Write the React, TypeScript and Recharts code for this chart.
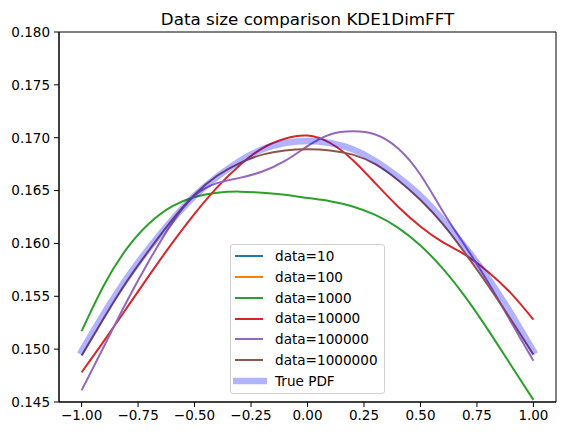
import { LineChart, Line, XAxis, YAxis, Legend, ReferenceArea } from 'recharts'

// sample positions along x
const xs = [-1.0, -0.9, -0.8, -0.7, -0.6, -0.5, -0.4, -0.3, -0.2, -0.1, 0.0, 0.1, 0.2, 0.3, 0.4, 0.5, 0.6, 0.7, 0.8, 0.9, 1.0]

// KDE estimates (data=10 and data=100 are not visible)
const kde1000 = [0.1517, 0.1561, 0.1595, 0.1619, 0.1635, 0.1644, 0.1648, 0.1649, 0.1648, 0.1646, 0.1643, 0.1640, 0.1635, 0.1627, 0.1615, 0.1598, 0.1576, 0.1549, 0.1518, 0.1485, 0.1452]
const kde10000 = [0.1478, 0.1508, 0.1539, 0.1570, 0.1600, 0.1628, 0.1653, 0.1674, 0.1690, 0.1699, 0.1702, 0.1695, 0.1679, 0.1657, 0.1635, 0.1616, 0.1601, 0.1589, 0.1573, 0.1553, 0.1528]
const kde100000 = [0.1461, 0.1503, 0.1545, 0.1584, 0.1619, 0.1645, 0.1657, 0.1662, 0.1668, 0.1678, 0.1692, 0.1703, 0.1706, 0.1703, 0.1690, 0.1665, 0.1630, 0.1597, 0.1563, 0.1526, 0.1489]
const kde1000000 = [0.1494, 0.1530, 0.1564, 0.1594, 0.1622, 0.1646, 0.1664, 0.1676, 0.1684, 0.1688, 0.1689, 0.1688, 0.1684, 0.1675, 0.1660, 0.1641, 0.1618, 0.1590, 0.1560, 0.1528, 0.1495]
const truePdf = [0.1498, 0.1534, 0.1567, 0.1596, 0.1622, 0.1645, 0.1663, 0.1678, 0.1689, 0.1695, 0.1697, 0.1695, 0.1689, 0.1678, 0.1663, 0.1645, 0.1622, 0.1596, 0.1567, 0.1534, 0.1498]

const xTicks = [-1, -0.75, -0.5, -0.25, 0, 0.25, 0.5, 0.75, 1]
const yTicks = [0.145, 0.15, 0.155, 0.16, 0.165, 0.17, 0.175, 0.18]

const series = [
  { key: 'd10', name: 'data=10', color: '#1f77b4', values: null as number[] | null },
  { key: 'd100', name: 'data=100', color: '#ff7f0e', values: null as number[] | null },
  { key: 'd1000', name: 'data=1000', color: '#2ca02c', values: kde1000 },
  { key: 'd10000', name: 'data=10000', color: '#d62728', values: kde10000 },
  { key: 'd100000', name: 'data=100000', color: '#9467bd', values: kde100000 },
  { key: 'd1000000', name: 'data=1000000', color: '#8c564b', values: kde1000000 },
]

const rows = xs.map((x, i) => {
  const row: Record<string, number> = { x, pdf: truePdf[i] }
  series.forEach((s) => {
    if (s.values) row[s.key] = s.values[i]
  })
  return row
})

const FONT = '"DejaVu Sans", sans-serif'
const tickStyle = { fill: '#000', fontSize: 13.5, fontFamily: FONT }

const fmtX = (v: number) => v.toFixed(2).replace('-', '\u2212')

const LegendBox = () => (
  <div
    style={{
      width: 155,
      height: 150,
      boxSizing: 'border-box',
      border: '1px solid #d0d0d0',
      borderRadius: 3,
      background: 'rgba(255,255,255,0.8)',
      paddingTop: 1,
      fontFamily: FONT,
      fontSize: 13.6,
      color: '#000',
    }}
  >
    {series.map((s) => (
      <div key={s.key} style={{ display: 'flex', alignItems: 'center', height: 20.75 }}>
        <svg width={28} height={8} style={{ marginLeft: 4, marginRight: 12 }}>
          <line x1={0} y1={4} x2={28} y2={4} stroke={s.color} strokeWidth={2} />
        </svg>
        <span style={{ lineHeight: '20.75px', whiteSpace: 'nowrap' }}>{s.name}</span>
      </div>
    ))}
    <div style={{ display: 'flex', alignItems: 'center', height: 20.75 }}>
      <svg width={34} height={8} style={{ marginLeft: 2, marginRight: 8 }}>
        <line x1={0} y1={4} x2={34} y2={4} stroke="#0000ff" strokeOpacity={0.3} strokeWidth={6.5} />
      </svg>
      <span style={{ lineHeight: '20.75px' }}>True PDF</span>
    </div>
  </div>
)

export default function App() {
  return (
    <div style={{ position: 'fixed', left: 0, top: 0, width: 565, height: 435, background: '#fff' }}>
      <div
        style={{
          position: 'absolute',
          left: 59,
          width: 497,
          top: 9,
          textAlign: 'center',
          fontFamily: FONT,
          fontSize: 16.7,
          color: '#000',
          whiteSpace: 'nowrap',
        }}
      >
        Data size comparison KDE1DimFFT
      </div>
      <LineChart width={565} height={435} data={rows} margin={{ top: 32, right: 9, left: 9, bottom: 3 }}>
        <XAxis
          dataKey="x"
          type="number"
          domain={[-1.1, 1.1]}
          allowDataOverflow
          ticks={xTicks}
          tickFormatter={fmtX}
          stroke="#000"
          tickSize={5}
          tickMargin={3}
          height={30}
          tick={tickStyle}
        />
        <YAxis
          type="number"
          domain={[0.145, 0.18]}
          allowDataOverflow
          ticks={yTicks}
          tickFormatter={(v: number) => v.toFixed(3)}
          stroke="#000"
          tickSize={5}
          tickMargin={4}
          width={50}
          tick={tickStyle}
        />

        {/* plot frame, like matplotlib's four spines */}
        <ReferenceArea x1={-1.1} x2={1.1} y1={0.145} y2={0.18} fill="none" stroke="#000" strokeWidth={1} ifOverflow="visible" />

        {series.map((s) => (
          <Line
            key={s.key}
            dataKey={s.key}
            name={s.name}
            type="natural"
            stroke={s.color}
            strokeWidth={2}
            dot={false}
            isAnimationActive={false}
          />
        ))}
        <Line
          dataKey="pdf"
          name="True PDF"
          type="natural"
          stroke="#0000ff"
          strokeOpacity={0.3}
          strokeWidth={6.5}
          strokeLinecap="square"
          dot={false}
          isAnimationActive={false}
        />

        <Legend
          layout="vertical"
          align="center"
          verticalAlign="middle"
          wrapperStyle={{ left: 230, top: 244, width: 155, height: 150 }}
          content={() => <LegendBox />}
        />
      </LineChart>
    </div>
  )
}
